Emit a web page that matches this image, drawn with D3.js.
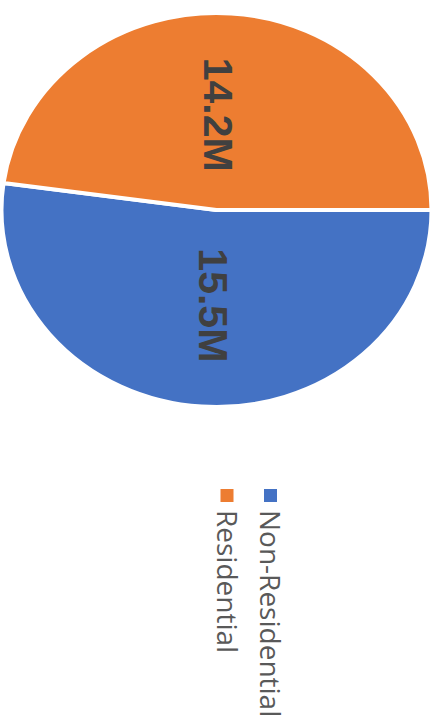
<!DOCTYPE html>
<html>
<head>
<meta charset="utf-8">
<script src="https://cdn.jsdelivr.net/npm/d3@7"></script>
<style>
  html, body { margin: 0; padding: 0; background: #fff; }
  svg { display: block; }
</style>
</head>
<body>
<script>
// Building floor area split, in millions
const categories = ["Non-Residential", "Residential"];
const values = [15.5, 14.2];
const colors = ["#4472C4", "#ED7D31"];

const W = 437, H = 723;
const cx = 216.5, cy = 210;
const rx = 215, ry = 197;

const svg = d3.select("body").append("svg")
  .attr("width", W).attr("height", H);

const data = categories.map((c, i) => ({ name: c, value: values[i] }));

// Slices run clockwise from 3 o'clock
const pie = d3.pie().sort(null).value(d => d.value)
  .startAngle(Math.PI / 2).endAngle(Math.PI / 2 + 2 * Math.PI);
const arcs = pie(data);

const arc = d3.arc().innerRadius(0).outerRadius(ry);
const color = d3.scaleOrdinal().domain(categories).range(colors);

const pieG = svg.append("g")
  .attr("transform", `translate(${cx},${cy}) scale(${rx / ry},1)`);

pieG.selectAll("path")
  .data(arcs)
  .join("path")
  .attr("d", arc)
  .attr("fill", d => color(d.data.name))
  .attr("stroke", "#fff")
  .attr("stroke-width", 4)
  .attr("vector-effect", "non-scaling-stroke")
  .attr("stroke-linejoin", "round");

// Value labels, turned a quarter clockwise
const labelArc = d3.arc().innerRadius(0).outerRadius(ry * 0.97);
svg.append("g").selectAll("text")
  .data(arcs)
  .join("text")
  .attr("transform", d => {
    const [x, y] = labelArc.centroid(d);
    return `translate(${cx + x * 0.35},${cy + y}) rotate(90)`;
  })
  .attr("text-anchor", "middle")
  .attr("dy", "0.36em")
  .attr("font-family", "'Liberation Sans', Arial, sans-serif")
  .attr("font-weight", "bold")
  .attr("font-size", 41)
  .attr("fill", "#404040")
  .text(d => `${d.data.value}M`);

// Legend, stacked right to left
const legendX = d3.scalePoint().domain(categories).range([260, 216.5]);
const legend = svg.append("g").selectAll("g")
  .data(categories)
  .join("g")
  .attr("transform", d => `translate(${legendX(d)},0)`);

legend.append("rect")
  .attr("x", 4)
  .attr("y", 489)
  .attr("width", 13)
  .attr("height", 13)
  .attr("fill", d => color(d));

legend.append("text")
  .attr("transform", "translate(0,510) rotate(90)")
  .attr("font-family", "'Open Sans', sans-serif")
  .attr("font-size", 28)
  .attr("fill", "#595959")
  .text(d => d);
</script>
</body>
</html>
